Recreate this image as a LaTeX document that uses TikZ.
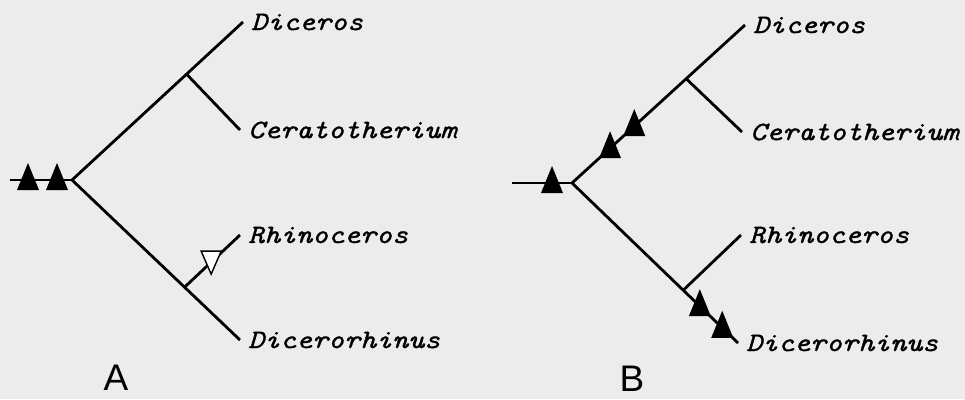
\documentclass[tikz,border=0pt]{standalone}
\usepackage{fontspec}
\usetikzlibrary{calc}
\newfontfamily\taxfont[FakeStretch=1.15,FakeBold=1.3]{lmmono10-italic.otf}
\newfontfamily\panelfont{Liberation Sans}
\definecolor{bg}{RGB}{236,236,236}
\begin{document}
\begin{tikzpicture}[x=1pt,y=-1pt,
  branch/.style={line width=2.8pt, line cap=butt},
  taxon/.style={anchor=west, inner xsep=8pt, inner ysep=0pt, font=\taxfont\fontsize{26.5}{30}\selectfont},
  panel/.style={font=\panelfont\fontsize{37}{40}\selectfont, inner sep=0pt},
  soltri/.pic={\fill[black] (-11,10) -- (11,10) -- (0,-17) -- cycle;},
  opentri/.pic={\filldraw[fill=white, draw=black, line width=1.4pt] (-10,-11) -- (10,-11) -- (0,12) -- cycle;}
]
\fill[bg] (0,0) rectangle (965,399);
\useasboundingbox (0,0) rectangle (965,399);

% ---------- Panel A ----------
\node[taxon] (aDic) at (243,22) {Diceros};
\node[taxon] (aCer) at (240,130) {Ceratotherium};
\node[taxon] (aRhi) at (240,235) {Rhinoceros};
\node[taxon] (aDcr) at (240,340) {Dicerorhinus};
\coordinate (aS) at (10,180);
\coordinate (aR) at (72,180);
\coordinate (aU) at ($(aR)!0.67!(aDic.west)$);
\coordinate (aL) at ($(aR)!0.67!(aDcr.west)$);
\draw[branch] (aS) -- (aR);
\draw[branch] (aR) -- (aDic.west);
\draw[branch] (aR) -- (aDcr.west);
\draw[branch] (aU) -- (aCer.west);
\draw[branch] (aL) -- (aRhi.west);
\pic at (28,180) {soltri};
\pic at (57,180) {soltri};
\pic at ($(aL)!0.48!(aRhi.west)$) {opentri};
\node[panel] (pA) at (116,378) {A};

% ---------- Panel B ----------
\node[taxon] (bDic) at (745,25) {Diceros};
\node[taxon] (bCer) at (742,132) {Ceratotherium};
\node[taxon] (bRhi) at (741,235) {Rhinoceros};
\node[taxon] (bDcr) at (738,343) {Dicerorhinus};
\coordinate (bS) at (512,183);
\coordinate (bR) at (572,183);
\coordinate (bU) at ($(bR)!0.66!(bDic.west)$);
\coordinate (bL) at ($(bR)!0.67!(bDcr.west)$);
\draw[branch] (bS) -- (bR);
\draw[branch] (bR) -- (bDic.west);
\draw[branch] (bR) -- (bDcr.west);
\draw[branch] (bU) -- (bCer.west);
\draw[branch] (bL) -- (bRhi.west);
\pic at (552,183) {soltri};
\pic at ($(bR)!0.22!(bDic.west)$) {soltri};
\pic at ($(bR)!0.36!(bDic.west)$) {soltri};
\pic at ($(bR)!0.77!(bDcr.west)$) {soltri};
\pic at ($(bR)!0.905!(bDcr.west)$) {soltri};
\node[panel] (pB) at (632,379) {B};
\end{tikzpicture}
\end{document}
